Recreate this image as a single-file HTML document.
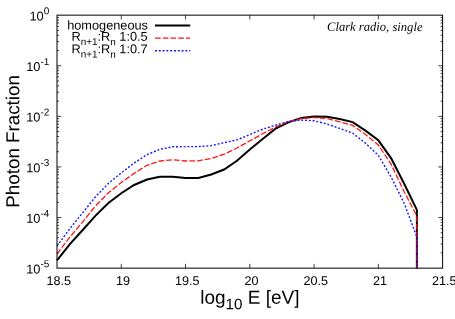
<!DOCTYPE html><html><head><meta charset="utf-8"><title>Photon Fraction</title><style>html,body{margin:0;padding:0;background:#fff}svg{display:block;will-change:transform;transform:translateZ(0)}text{font-family:"Liberation Sans",sans-serif;fill:#000}.it{font-family:"Liberation Serif",serif;font-style:italic}</style></head><body>
<svg width="455" height="319" viewBox="0 0 455 319">
<rect width="455" height="319" fill="#fff"/>
<path d="M57.00,50.52 h2.0 M442.60,50.52 h-2.0 M57.00,41.61 h2.0 M442.60,41.61 h-2.0 M57.00,35.29 h2.0 M442.60,35.29 h-2.0 M57.00,30.38 h2.0 M442.60,30.38 h-2.0 M57.00,26.38 h2.0 M442.60,26.38 h-2.0 M57.00,22.99 h2.0 M442.60,22.99 h-2.0 M57.00,20.05 h2.0 M442.60,20.05 h-2.0 M57.00,17.47 h2.0 M442.60,17.47 h-2.0 M57.00,65.75 h4.3 M442.60,65.75 h-4.3 M57.00,101.12 h2.0 M442.60,101.12 h-2.0 M57.00,92.21 h2.0 M442.60,92.21 h-2.0 M57.00,85.89 h2.0 M442.60,85.89 h-2.0 M57.00,80.98 h2.0 M442.60,80.98 h-2.0 M57.00,76.98 h2.0 M442.60,76.98 h-2.0 M57.00,73.59 h2.0 M442.60,73.59 h-2.0 M57.00,70.65 h2.0 M442.60,70.65 h-2.0 M57.00,68.07 h2.0 M442.60,68.07 h-2.0 M57.00,116.35 h4.3 M442.60,116.35 h-4.3 M57.00,151.72 h2.0 M442.60,151.72 h-2.0 M57.00,142.81 h2.0 M442.60,142.81 h-2.0 M57.00,136.49 h2.0 M442.60,136.49 h-2.0 M57.00,131.58 h2.0 M442.60,131.58 h-2.0 M57.00,127.58 h2.0 M442.60,127.58 h-2.0 M57.00,124.19 h2.0 M442.60,124.19 h-2.0 M57.00,121.25 h2.0 M442.60,121.25 h-2.0 M57.00,118.67 h2.0 M442.60,118.67 h-2.0 M57.00,166.95 h4.3 M442.60,166.95 h-4.3 M57.00,202.32 h2.0 M442.60,202.32 h-2.0 M57.00,193.41 h2.0 M442.60,193.41 h-2.0 M57.00,187.09 h2.0 M442.60,187.09 h-2.0 M57.00,182.18 h2.0 M442.60,182.18 h-2.0 M57.00,178.18 h2.0 M442.60,178.18 h-2.0 M57.00,174.79 h2.0 M442.60,174.79 h-2.0 M57.00,171.85 h2.0 M442.60,171.85 h-2.0 M57.00,169.27 h2.0 M442.60,169.27 h-2.0 M57.00,217.55 h4.3 M442.60,217.55 h-4.3 M57.00,252.92 h2.0 M442.60,252.92 h-2.0 M57.00,244.01 h2.0 M442.60,244.01 h-2.0 M57.00,237.69 h2.0 M442.60,237.69 h-2.0 M57.00,232.78 h2.0 M442.60,232.78 h-2.0 M57.00,228.78 h2.0 M442.60,228.78 h-2.0 M57.00,225.39 h2.0 M442.60,225.39 h-2.0 M57.00,222.45 h2.0 M442.60,222.45 h-2.0 M57.00,219.87 h2.0 M442.60,219.87 h-2.0 M121.27,268.15 v-4.3 M121.27,15.15 v4.3 M185.53,268.15 v-4.3 M185.53,15.15 v4.3 M249.80,268.15 v-4.3 M249.80,15.15 v4.3 M314.07,268.15 v-4.3 M314.07,15.15 v4.3 M378.33,268.15 v-4.3 M378.33,15.15 v4.3" stroke="#000" stroke-width="0.75" fill="none"/>
<path d="M57.00,260.40 L69.85,244.20 L82.71,230.00 L95.56,215.60 L108.41,203.00 L121.27,193.20 L134.12,185.00 L146.97,179.50 L159.83,176.70 L172.68,176.70 L185.53,178.00 L198.39,177.90 L211.24,174.50 L224.09,169.50 L236.95,160.80 L249.80,149.50 L262.65,139.00 L275.51,128.70 L288.36,122.40 L301.21,117.90 L314.07,116.40 L326.92,116.80 L339.77,119.10 L352.63,122.10 L365.48,130.60 L378.33,140.30 L391.19,158.30 L404.04,183.50 L416.89,209.90 L416.89,268.15" stroke="#000" stroke-width="2.0" fill="none" stroke-linejoin="miter"/>
<path d="M57.00,253.80 L69.85,237.20 L82.71,221.80 L95.56,205.80 L108.41,192.80 L121.27,182.50 L134.12,173.40 L146.97,165.30 L159.83,161.00 L172.68,159.80 L185.53,161.00 L198.39,160.80 L211.24,158.40 L224.09,154.20 L236.95,148.00 L249.80,140.80 L262.65,133.80 L275.51,127.00 L288.36,121.60 L301.21,118.60 L314.07,117.50 L326.92,118.60 L339.77,121.80 L352.63,125.40 L365.48,134.50 L378.33,145.00 L391.19,164.30 L404.04,191.50 L416.89,216.00 L416.89,268.15" stroke="#ff1414" stroke-width="1.3" fill="none" stroke-dasharray="5.7 2.05"/>
<path d="M57.00,246.00 L69.85,228.60 L82.71,212.80 L95.56,196.70 L108.41,183.40 L121.27,172.90 L134.12,163.00 L146.97,154.70 L159.83,149.30 L172.68,146.80 L185.53,146.60 L198.39,146.60 L211.24,145.60 L224.09,142.70 L236.95,139.90 L249.80,134.60 L262.65,129.20 L275.51,125.20 L288.36,121.50 L301.21,120.10 L314.07,120.80 L326.92,124.00 L339.77,128.40 L352.63,133.10 L365.48,143.20 L378.33,155.20 L391.19,177.20 L404.04,203.00 L416.89,237.00 L416.89,268.15" stroke="#1414ff" stroke-width="1.4" fill="none" stroke-dasharray="1.95 1.85"/>
<rect x="57.00" y="15.15" width="385.60" height="253.00" fill="none" stroke="#000" stroke-width="1"/>
<g transform="translate(49.30,20.40) rotate(0.04)"><text text-anchor="end" font-size="12.80">10<tspan dy="-6.1" font-size="10.00">0</tspan></text></g>
<g transform="translate(49.30,71.00) rotate(0.04)"><text text-anchor="end" font-size="12.80">10<tspan dy="-6.1" font-size="10.00">-1</tspan></text></g>
<g transform="translate(49.30,121.60) rotate(0.04)"><text text-anchor="end" font-size="12.80">10<tspan dy="-6.1" font-size="10.00">-2</tspan></text></g>
<g transform="translate(49.30,172.20) rotate(0.04)"><text text-anchor="end" font-size="12.80">10<tspan dy="-6.1" font-size="10.00">-3</tspan></text></g>
<g transform="translate(49.30,222.80) rotate(0.04)"><text text-anchor="end" font-size="12.80">10<tspan dy="-6.1" font-size="10.00">-4</tspan></text></g>
<g transform="translate(49.30,273.40) rotate(0.04)"><text text-anchor="end" font-size="12.80">10<tspan dy="-6.1" font-size="10.00">-5</tspan></text></g>
<g transform="translate(58.70,284.90) rotate(0.04)"><text text-anchor="middle" font-size="12.60">18.5</text></g>
<g transform="translate(122.97,284.90) rotate(0.04)"><text text-anchor="middle" font-size="12.60">19</text></g>
<g transform="translate(187.23,284.90) rotate(0.04)"><text text-anchor="middle" font-size="12.60">19.5</text></g>
<g transform="translate(251.50,284.90) rotate(0.04)"><text text-anchor="middle" font-size="12.60">20</text></g>
<g transform="translate(315.77,284.90) rotate(0.04)"><text text-anchor="middle" font-size="12.60">20.5</text></g>
<g transform="translate(380.03,284.90) rotate(0.04)"><text text-anchor="middle" font-size="12.60">21</text></g>
<g transform="translate(444.30,284.90) rotate(0.04)"><text text-anchor="middle" font-size="12.60">21.5</text></g>
<g transform="translate(19.30,141.40) rotate(-89.96)"><text text-anchor="middle" font-size="18.80">Photon Fraction</text></g>
<g transform="translate(200.20,303.80) rotate(0.04)"><text text-anchor="start" font-size="19.00">log<tspan dy="5.5" font-size="15.20">10</tspan><tspan dy="-5.5"> E [eV]</tspan></text></g>
<g transform="translate(422.50,30.90) rotate(0.04)"><text class="it" text-anchor="end" font-size="12.60">Clark radio, single</text></g>
<g transform="translate(148.00,29.55) rotate(0.04)"><text text-anchor="end" font-size="12.75">homogeneous</text></g>
<g transform="translate(147.70,40.85) rotate(0.04)"><text text-anchor="end" font-size="12.75">R<tspan dy="4.3" font-size="9.95">n+1</tspan><tspan dy="-4.3">:R</tspan><tspan dy="4.3" font-size="9.95">n</tspan><tspan dy="-4.3"> 1:0.5</tspan></text></g>
<g transform="translate(147.70,53.35) rotate(0.04)"><text text-anchor="end" font-size="12.75">R<tspan dy="4.3" font-size="9.95">n+1</tspan><tspan dy="-4.3">:R</tspan><tspan dy="4.3" font-size="9.95">n</tspan><tspan dy="-4.3"> 1:0.7</tspan></text></g>
<path d="M155,25.5 H190.2" stroke="#000" stroke-width="1.9"/>
<path d="M155,38.1 H190.2" stroke="#ff1414" stroke-width="1.3" stroke-dasharray="5.7 2.05"/>
<path d="M155,50.75 H190.2" stroke="#1414ff" stroke-width="1.4" stroke-dasharray="1.95 1.85"/>
</svg></body></html>
